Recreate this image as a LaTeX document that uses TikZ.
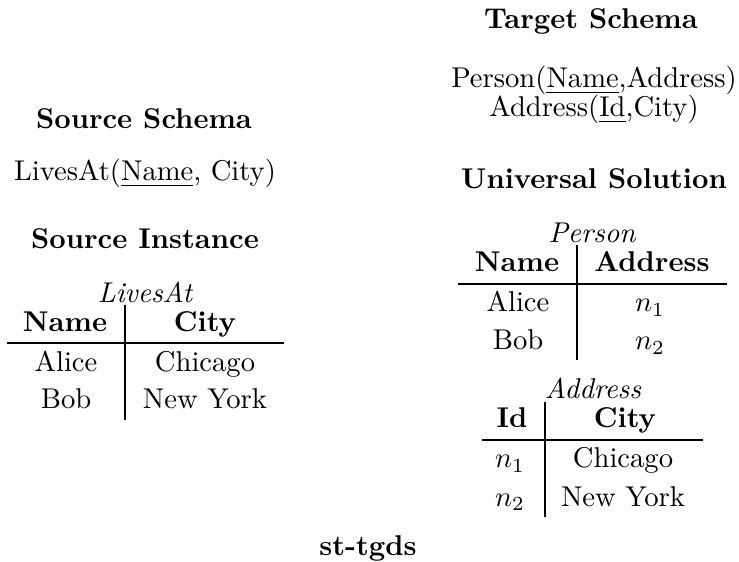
\documentclass[tikz,border=0pt]{standalone}
\begin{document}
\begin{tikzpicture}[x=0.34965pt,y=-0.34965pt,
  txt/.style={anchor=base,inner sep=0pt,outer sep=0pt},
  ttl/.style={txt,font=\bfseries},
  rel/.style={txt,font=\itshape},
  hdr/.style={txt,font=\bfseries},
  rule/.style={line width=0.4pt}]
\useasboundingbox (0,0) rectangle (739,562);

% schemas and headings
\node[ttl] (tgtS) at (591,29) {Target Schema};
\node[txt] (tgt1) at (594,88) {Person(\underline{Name},Address)};
\node[txt] (tgt2) at (594,117) {Address(\underline{Id},City)};
\node[ttl] (srcS) at (144,129) {Source Schema};
\node[txt] (src1) at (145,181) {LivesAt(\underline{Name}, City)};
\node[ttl] (univ) at (594,189) {Universal Solution};
\node[ttl] (srcI) at (145,249) {Source Instance};

% source instance: LivesAt
\node[rel] (lvT) at (145,303) {LivesAt};
\node[hdr] (lvH1) at (65,332) {Name};
\node[hdr] (lvH2) at (205,332) {City};
\node[txt] (lv11) at (66,372) {Alice};
\node[txt] (lv12) at (205,372) {Chicago};
\node[txt] (lv21) at (66,409) {Bob};
\node[txt] (lv22) at (205,409) {New York};
\draw[rule] (125,305) -- (125,420);
\draw[rule] (7,343) -- (284,343);

% universal solution: Person
\node[rel] (psT) at (592,243) {Person};
\node[hdr] (psH1) at (517,272) {Name};
\node[hdr] (psH2) at (652,272) {Address};
\node[txt] (ps11) at (518,312) {Alice};
\node[txt] (ps12) at (650,312) {$n_1$};
\node[txt] (ps21) at (518,350) {Bob};
\node[txt] (ps22) at (650,350) {$n_2$};
\draw[rule] (577,245) -- (577,360);
\draw[rule] (458,284) -- (727,284);

% universal solution: Address
\node[rel] (adT) at (593,398) {Address};
\node[hdr] (adH1) at (512,428) {Id};
\node[hdr] (adH2) at (625,428) {City};
\node[txt] (ad11) at (510,468) {$n_1$};
\node[txt] (ad12) at (623,468) {Chicago};
\node[txt] (ad21) at (510,506) {$n_2$};
\node[txt] (ad22) at (623,506) {New York};
\draw[rule] (545,402) -- (545,517);
\draw[rule] (482,440) -- (703,440);

% mapping label
\node[ttl] (tgds) at (368,556) {st-tgds};
\end{tikzpicture}
\end{document}
